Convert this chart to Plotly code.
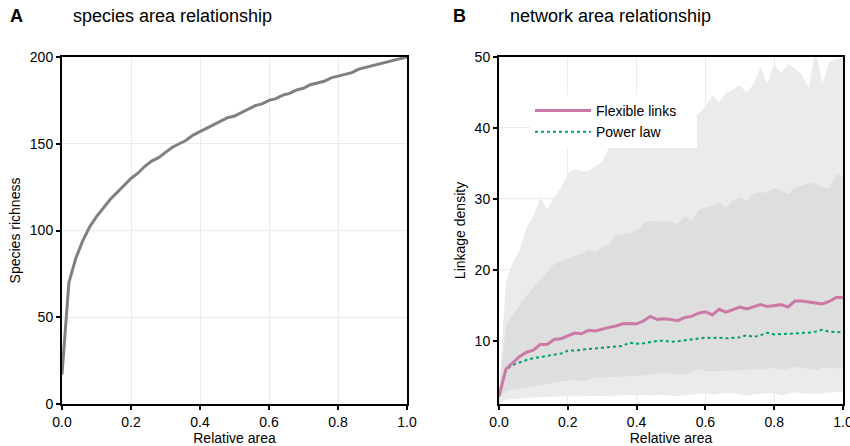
import plotly.graph_objects as go

# ---------------- data ----------------
area = [i / 50 for i in range(51)]  # relative area 0.00 .. 1.00 step 0.02

species_richness = [17, 70, 84, 94, 102, 108, 113, 118, 122, 126, 130, 133, 137, 140, 142,
                    145, 148, 150, 152, 155, 157, 159, 161, 163, 165, 166, 168, 170, 172, 173,
                    175, 176, 178, 179, 181, 182, 184, 185, 186, 188, 189, 190, 191, 193, 194,
                    195, 196, 197, 198, 199, 200]

flexible_links = [2.2, 6.0, 6.9, 7.8, 8.4, 8.7, 9.5, 9.5, 10.2, 10.3, 10.7, 11.1, 11.0, 11.5,
                  11.4, 11.7, 11.9, 12.1, 12.4, 12.45, 12.4, 12.8, 13.45, 13.0, 13.1, 13.0,
                  12.85, 13.3, 13.45, 13.9, 14.1, 13.65, 14.45, 14.05, 14.35, 14.75, 14.5,
                  14.85, 15.1, 14.85, 15.0, 15.1, 14.75, 15.6, 15.6, 15.5, 15.3, 15.2, 15.55,
                  16.1, 16.1]

power_law = [2.2, 5.9, 6.6, 7.0, 7.3, 7.55, 7.75, 7.9, 8.05, 8.2, 8.6, 8.65, 8.75, 8.85, 8.95,
             9.05, 9.1, 9.2, 9.3, 9.75, 9.6, 9.65, 9.8, 10.0, 10.0, 9.85, 9.95, 10.05, 10.15,
             10.3, 10.45, 10.4, 10.45, 10.35, 10.45, 10.5, 10.8, 10.55, 10.8, 11.15, 10.9,
             10.95, 11.0, 11.0, 11.05, 11.15, 11.3, 11.55, 11.3, 11.25, 11.2]

outer_upper = [2.5, 18.4, 21.0, 22.8, 26.0, 27.5, 30.2, 28.5, 30.2, 31.5, 33.6, 34.2, 33.9,
               33.9, 34.6, 35.2, 37.3, 38.0, 38.4, 38.9, 39.3, 39.5, 40.0, 40.3, 40.6, 40.9,
               41.2, 41.4, 41.7, 42.0, 43.0, 44.6, 43.6, 45.0, 45.4, 46.0, 45.0, 46.2, 48.6,
               46.3, 49.0, 47.7, 49.0, 48.4, 47.6, 45.6, 51.0, 46.3, 49.3, 49.7, 50.0]

inner_upper = [2.5, 12.0, 13.7, 15.0, 16.4, 17.5, 18.6, 19.6, 20.8, 21.2, 21.6, 22.0, 22.2,
               22.9, 22.5, 23.2, 23.6, 24.9, 25.1, 25.2, 25.5, 26.5, 26.9, 26.9, 26.9, 26.8,
               26.4, 27.6, 26.9, 28.4, 28.8, 29.0, 29.6, 28.8, 29.8, 30.2, 29.7, 30.8, 30.9,
               30.9, 31.6, 31.1, 30.7, 31.6, 31.9, 32.2, 32.2, 31.6, 31.4, 33.5, 33.1]

inner_lower = [2.0, 2.9, 3.1, 3.3, 3.4, 3.6, 3.7, 3.9, 4.1, 4.3, 4.35, 4.5, 4.3, 4.6, 4.8,
               4.8, 4.85, 4.9, 4.9, 4.95, 5.0, 5.1, 5.2, 5.4, 5.5, 5.4, 5.35, 5.25, 5.6, 6.0,
               5.7, 5.65, 5.7, 5.8, 5.85, 5.8, 5.9, 5.9, 6.0, 6.0, 6.2, 5.9, 6.1, 6.3, 6.2,
               6.0, 5.9, 6.2, 6.1, 6.1, 6.2]

outer_lower = [1.2, 1.7, 1.8, 1.9, 2.0, 2.0, 2.1, 2.1, 2.2, 2.2, 2.2, 2.3, 2.2, 2.2, 2.3,
               2.3, 2.2, 2.3, 2.3, 2.4, 2.3, 2.4, 2.3, 2.4, 2.4, 2.3, 2.2, 2.3, 2.5, 2.6, 2.6,
               2.4, 2.5, 2.7, 2.6, 2.4, 2.3, 2.5, 2.6, 2.6, 2.65, 2.3, 2.5, 2.75, 2.6, 2.5,
               2.5, 2.6, 2.75, 2.8, 2.9]

x_ticks = [0.0, 0.2, 0.4, 0.6, 0.8, 1.0]
a_y_ticks = [0, 50, 100, 150, 200]
b_y_ticks = [10, 20, 30, 40, 50]

# ---------------- figure ----------------
FONT = "Liberation Sans, Arial, Helvetica, sans-serif"
fig = go.Figure()

# Panel A
fig.add_trace(go.Scatter(x=area, y=species_richness, mode="lines",
                         line=dict(color="#808080", width=3), showlegend=False,
                         xaxis="x", yaxis="y"))

# Panel B bands
fig.add_trace(go.Scatter(x=area, y=outer_lower, mode="lines", line=dict(width=0),
                         showlegend=False, hoverinfo="skip", xaxis="x2", yaxis="y2"))
fig.add_trace(go.Scatter(x=area, y=outer_upper, mode="lines", line=dict(width=0),
                         fill="tonexty", fillcolor="#ebebeb",
                         showlegend=False, hoverinfo="skip", xaxis="x2", yaxis="y2"))
fig.add_trace(go.Scatter(x=area, y=inner_lower, mode="lines", line=dict(width=0),
                         showlegend=False, hoverinfo="skip", xaxis="x2", yaxis="y2"))
fig.add_trace(go.Scatter(x=area, y=inner_upper, mode="lines", line=dict(width=0),
                         fill="tonexty", fillcolor="#dedede",
                         showlegend=False, hoverinfo="skip", xaxis="x2", yaxis="y2"))

fig.add_trace(go.Scatter(x=area, y=power_law, mode="lines", name="Power law",
                         line=dict(color="#009E73", width=2, dash="dot"),
                         xaxis="x2", yaxis="y2"))
fig.add_trace(go.Scatter(x=area, y=flexible_links, mode="lines",
                         name="Flexible links\u00a0\u00a0\u00a0\u00a0",
                         line=dict(color="#CC79A7", width=3),
                         xaxis="x2", yaxis="y2"))

axis_common = dict(
    showline=True, linecolor="black", linewidth=2, mirror=True,
    ticks="outside", ticklen=4, tickwidth=1.5, tickcolor="black",
    showgrid=True, gridcolor="#ebebeb", gridwidth=1, zeroline=False,
    automargin=False, ticklabeloverflow="allow",
    tickfont=dict(family=FONT, size=14, color="black"),
)

ydom = [1 - 404 / 446, 1 - 57 / 446]

fig.update_layout(
    width=850, height=446,
    margin=dict(l=0, r=0, t=0, b=0, autoexpand=False),
    paper_bgcolor="white", plot_bgcolor="white",
    font=dict(family=FONT, size=14, color="black"),
    xaxis=dict(domain=[62 / 850, 407 / 850], range=[0, 1], tickvals=x_ticks,
               tickformat=".1f", anchor="y",
               title=dict(text="Relative area", font=dict(size=14), standoff=4),
               **axis_common),
    yaxis=dict(domain=ydom, range=[0, 200], tickvals=a_y_ticks, anchor="x",
               title=dict(text="Species richness", font=dict(size=14), standoff=6),
               **axis_common),
    xaxis2=dict(domain=[499 / 850, 843 / 850], range=[0, 1], tickvals=x_ticks,
                tickformat=".1f", anchor="y2",
                title=dict(text="Relative area", font=dict(size=14), standoff=4),
                **axis_common),
    yaxis2=dict(domain=ydom, range=[1.1, 50], tickvals=b_y_ticks, anchor="x2",
                title=dict(text="Linkage density", font=dict(size=14), standoff=6),
                **axis_common),
    legend=dict(x=530 / 850, y=1 - 95 / 446, xanchor="left", yanchor="top",
                bgcolor="white", borderwidth=0, traceorder="reversed",
                font=dict(family=FONT, size=14, color="black"),
                itemwidth=56, tracegroupgap=0),
    annotations=[
        dict(text="<b>A</b>", x=8 / 850, y=1 - 16 / 446, xref="paper", yref="paper",
             xanchor="left", yanchor="middle", showarrow=False,
             font=dict(family=FONT, size=18, color="black")),
        dict(text="species area relationship", x=71 / 850, y=1 - 16 / 446,
             xref="paper", yref="paper", xanchor="left", yanchor="middle",
             showarrow=False, font=dict(family=FONT, size=18, color="black")),
        dict(text="<b>B</b>", x=451 / 850, y=1 - 16 / 446, xref="paper", yref="paper",
             xanchor="left", yanchor="middle", showarrow=False,
             font=dict(family=FONT, size=18, color="black")),
        dict(text="network area relationship", x=508 / 850, y=1 - 16 / 446,
             xref="paper", yref="paper", xanchor="left", yanchor="middle",
             showarrow=False, font=dict(family=FONT, size=18, color="black")),
    ],
)

fig.write_html("out.html")
